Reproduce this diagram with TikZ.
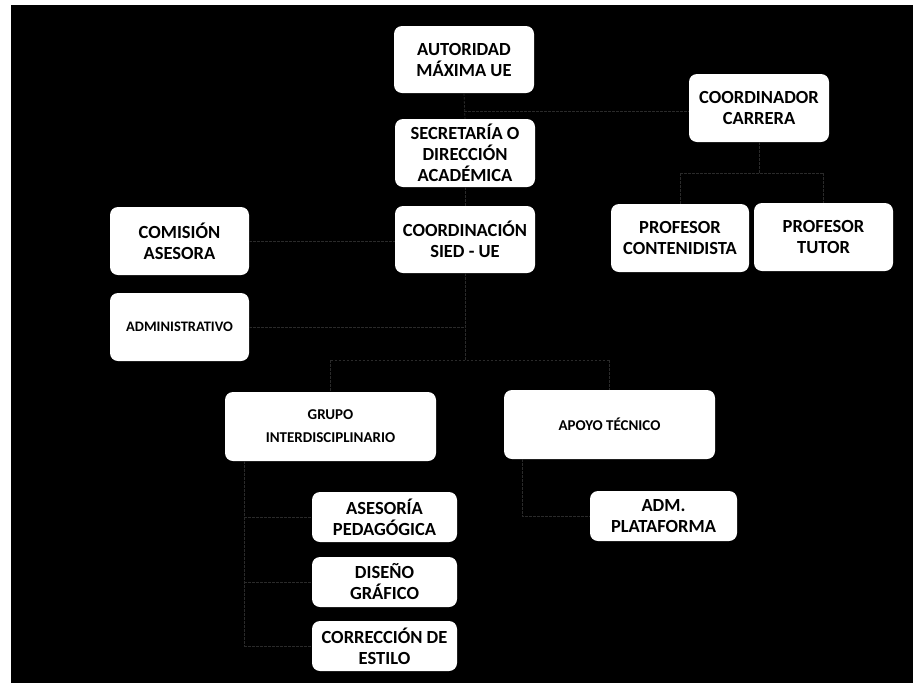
\documentclass[tikz,border=0pt]{standalone}
\usepackage{fontspec}
\setmainfont{Carlito}
\begin{document}
\begin{tikzpicture}[x=1pt,y=-1pt,
  box/.style={fill=white,draw=none,rounded corners=8pt,inner sep=0pt,align=center,text=black,font=\bfseries\fontsize{18.5}{21}\selectfont},
  smallbox/.style={box,font=\bfseries\fontsize{14.5}{16}\selectfont},
  link/.style={draw={rgb,255:red,42;green,42;blue,42},line width=0.8pt,dash pattern=on 2.5pt off 1.5pt}]
\useasboundingbox (0,0) rectangle (913,686);
\fill[white] (0,0) rectangle (913,686);
\fill[black] (11,5) rectangle (913,683);
% nodes
\node[box,minimum width=140pt,minimum height=67pt] (aut) at (464,59.5) {AUTORIDAD\\MÁXIMA UE};
\node[box,minimum width=140pt,minimum height=68pt] (sec) at (465,153) {SECRETARÍA O\\DIRECCIÓN\\ACADÉMICA};
\node[box,minimum width=140pt,minimum height=67pt] (sied) at (465,239.5) {COORDINACIÓN\\SIED - UE};
\node[box,minimum width=139pt,minimum height=68pt] (com) at (179.5,241) {COMISIÓN\\ASESORA};
\node[smallbox,minimum width=139pt,minimum height=68pt] (adm) at (179.5,327) {ADMINISTRATIVO};
\node[box,minimum width=140pt,minimum height=68pt] (cc) at (759,108) {COORDINADOR\\CARRERA};
\node[box,minimum width=138pt,minimum height=68pt] (pc) at (680,238) {PROFESOR\\CONTENIDISTA};
\node[box,minimum width=139pt,minimum height=68pt] (pt) at (823.5,237) {PROFESOR\\TUTOR};
\node[smallbox,font=\bfseries\fontsize{15}{23}\selectfont,minimum width=211pt,minimum height=69pt] (gru) at (330.5,426.5) {GRUPO\\INTERDISCIPLINARIO};
\node[smallbox,font=\bfseries\fontsize{15}{16}\selectfont,minimum width=211pt,minimum height=69pt] (apo) at (609.5,424.5) {APOYO TÉCNICO};
\node[box,minimum width=145pt,minimum height=50pt] (ase) at (384.5,517) {ASESORÍA\\PEDAGÓGICA};
\node[box,minimum width=145pt,minimum height=50pt] (dis) at (384.5,582) {DISEÑO\\GRÁFICO};
\node[box,minimum width=145pt,minimum height=50pt] (cor) at (384.5,646) {CORRECCIÓN DE\\ESTILO};
\node[box,minimum width=147pt,minimum height=50pt] (plat) at (663.5,516) {ADM.\\PLATAFORMA};
% junctions
\coordinate (jcc) at (759,173);
\coordinate (jsied) at (465,360);
\coordinate (jgru) at (244,461);
\coordinate (japo) at (522,459);
% connectors
\draw[link] (aut.south) -- (sec.north);
\draw[link] (sec.south) -- (sied.north);
\draw[link] (aut.south |- 0,111) -- (cc.west |- 0,111);
\draw[link] (cc.south) -- (jcc);
\draw[link] (pc.north |- jcc) -- (pt.north |- jcc);
\draw[link] (pc.north |- jcc) -- (pc.north);
\draw[link] (pt.north |- jcc) -- (pt.north);
\draw[link] (com.east) -- (sied.west |- com.east);
\draw[link] (sied.south) -- (jsied);
\draw[link] (adm.east) -- (sied.south |- adm.east);
\draw[link] (gru.north |- jsied) -- (apo.north |- jsied);
\draw[link] (gru.north |- jsied) -- (gru.north);
\draw[link] (apo.north |- jsied) -- (apo.north);
\draw[link] (jgru) -- (jgru |- cor.west);
\draw[link] (jgru |- ase.west) -- (ase.west);
\draw[link] (jgru |- dis.west) -- (dis.west);
\draw[link] (jgru |- cor.west) -- (cor.west);
\draw[link] (japo) -- (japo |- plat.west) -- (plat.west);
\end{tikzpicture}
\end{document}
